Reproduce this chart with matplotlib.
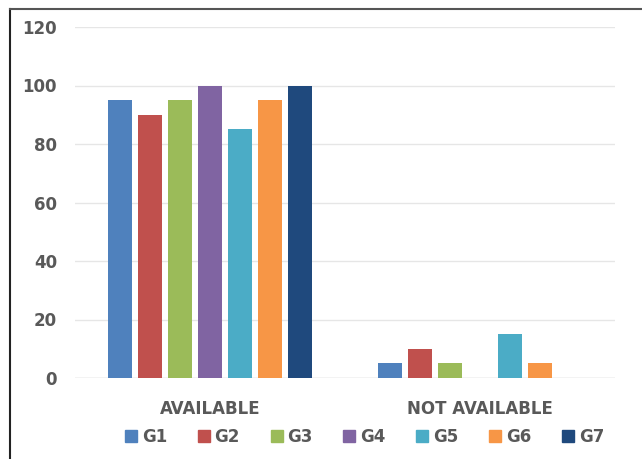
import numpy as np
import matplotlib
matplotlib.use('Agg')
import matplotlib.pyplot as plt
from matplotlib.lines import Line2D

CATEGORIES = ['AVAILABLE', 'NOT AVAILABLE']
GROUPS = ['G1', 'G2', 'G3', 'G4', 'G5', 'G6', 'G7']
VALUES = {
    'G1': [95, 5],
    'G2': [90, 10],
    'G3': [95, 5],
    'G4': [100, 0],
    'G5': [85, 15],
    'G6': [95, 5],
    'G7': [100, 0],
}
COLORS = ['#4f81bd', '#c0504d', '#9bbb59', '#8064a2', '#4bacc6', '#f79646', '#1f497d']
YTICKS = [0, 20, 40, 60, 80, 100, 120]

TXT = '#595959'
plt.rcParams['font.family'] = ['DejaVu Sans']

fig = plt.figure(figsize=(6.42, 4.59), dpi=100)
ax = fig.add_axes([75 / 642, 1 - 378 / 459, 540 / 642, 351 / 459])

x = np.arange(len(CATEGORIES))
step, width = 0.111, 0.089
for i, (g, c) in enumerate(zip(GROUPS, COLORS)):
    off = (i - (len(GROUPS) - 1) / 2) * step
    ax.bar(x + off, VALUES[g], width, color=c, label=g, zorder=3)

ax.set_xlim(-0.5, 1.5)
ax.set_ylim(0, 120)
ax.set_yticks(YTICKS)
ax.set_xticks(x)
ax.set_xticklabels(CATEGORIES)
ax.yaxis.grid(True, color='#e6e6e6', lw=1, zorder=0)
for s in ax.spines.values():
    s.set_visible(False)
ax.axhline(0, color='#d9d9d9', lw=1, zorder=2)
ax.tick_params(length=0, colors=TXT, labelsize=12)
ax.tick_params(axis='x', pad=16)
ax.tick_params(axis='y', pad=13)
for t in ax.get_xticklabels() + ax.get_yticklabels():
    t.set_fontweight('bold')

handles = [Line2D([0], [0], marker='s', lw=0, color=c, markersize=8) for c in COLORS]
leg = fig.legend(handles, GROUPS, loc='center', bbox_to_anchor=(365 / 642, 1 - 437 / 459),
                 ncol=7, frameon=False, handlelength=0.6, handletextpad=0.35,
                 columnspacing=1.9, fontsize=12)
for t in leg.get_texts():
    t.set_color(TXT)
    t.set_fontweight('bold')

# frame lines on the left and top edges
fig.add_artist(Line2D([10.5 / 642, 10.5 / 642], [0, 1 - 8.5 / 459], color='#222222', lw=1.5))
fig.add_artist(Line2D([10.5 / 642, 1], [1 - 8.5 / 459, 1 - 8.5 / 459], color='#555555', lw=1.5))

fig.savefig('out.png', dpi=100)
